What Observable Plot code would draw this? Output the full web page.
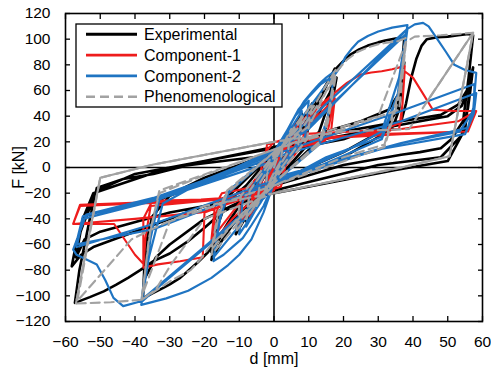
<!DOCTYPE html>
<html><head><meta charset="utf-8">
<script src="https://cdn.jsdelivr.net/npm/d3@7"></script>
<script src="https://cdn.jsdelivr.net/npm/@observablehq/plot@0.6"></script>
<style>body{margin:0;background:#fff;} #chart{width:491px;height:368px;}</style>
</head><body><div id="chart"></div>
<script>
const xTicks = [-60,-50,-40,-30,-20,-10,0,10,20,30,40,50,60];
const yTicks = [-120,-100,-80,-60,-40,-20,0,20,40,60,80,100,120];
const seriesNames = ["Experimental","Component-1","Component-2","Phenomenological"];

// d [mm], F [kN]
const experimental = [
[0,0],[1.5,12],[2.5,18],[2,6],[0,-4],[-1.5,-12],[-2.5,-18],[-2,-6],[0,4],
[2.5,16],[4.5,28],[3.8,12],[0,-6],[-2.5,-16],[-4.5,-28],[-3.8,-12],[0,6],
[3,18],[5.5,30],[8,42],[7,20],[0,-8],[-3,-18],[-5.5,-30],[-8,-42],[-7,-22],[0,8],
[4,20],[8,36],[11,50],[9.5,26],[0,-10],[-4,-22],[-8,-38],[-11,-52],[-9.5,-28],[0,10],
[5,22],[10,36],[12,46],[14,58],[16,69],[17.5,77],[15.5,48],[13,28],[0,-12],[-6,-26],[-9,-35],[-12,-45],[-15,-57],[-18,-72],[-16.5,-48],[-14,-28],[-8,-14],[0,12],
[6,22],[12,38],[16,58],[18,70],[16,40],[14,24],[0,-12],[-8,-30],[-14,-48],[-18,-66],[-16,-36],[-13,-22],[0,12],
[8,30],[11,45],[13,55],[15.5,67],[17.5,76],[20,83],[22,88],[24.5,92],[27,95],[30,97.5],[32,99],[35,100.5],[37.5,101],[36.5,70],[35.5,45],[32,30],[20,12],[0,-12],[-10,-30],[-13,-42],[-16,-55],[-19,-66],[-22,-74],[-24.5,-80],[-27,-86],[-30,-91],[-32,-94],[-35,-98],[-37.7,-102],[-37.2,-70],[-35.5,-44],[-32,-24],[-20,-8],[0,12],
[15,28],[25,36],[33,45],[36.5,60],[37.5,82],[36,45],[34,30],[20,8],[0,-14],[-20,-40],[-30,-60],[-34,-70],[-37.5,-88],[-36.5,-55],[-35,-38],[-30,-22],[0,12],
[20,22],[30,32],[36.6,36],[38,50],[39.5,70],[41,85],[42.5,95],[44,100],[47,101.5],[50,102],[53,103],[56,104],[57.3,103],[56,70],[54.4,36],[51,22],[48,15],[42,12],[36.6,10],[20,2],[0,-14],[-15,-35],[-20,-47],[-25,-58],[-30,-67],[-34.7,-73],[-38.5,-80],[-42,-86],[-45.5,-91.5],[-49,-96.5],[-53,-101],[-57.3,-105.5],[-56,-80],[-53,-40],[-51,-16],[-43.4,-9],[-34.7,-5],[-20,5],[0,16],
[20,28],[36.6,36],[48,41],[53,49],[55.5,60],[57.3,78],[56.5,60],[55.8,46],[54,25],[48,8],[30,2],[0,-18],[-20,-30],[-35,-45],[-45,-55],[-52,-62],[-55.5,-68],[-58.2,-77],[-57,-60],[-55,-45],[-51,-18],[-40,-5],[-20,5],[0,15],
[20,25],[40,35],[50,40],[54,48],[56.5,65],[55,30],[50,5],[35,-2],[0,-20],[-30,-35],[-50,-50],[-54.5,-56],[-57,-70],[-55,-40],[-52,-20],[-30,0],[0,10]
];
const component1 = [
[0,0],[1,10],[2,16],[1.5,4],[0,-3],[-1,-10],[-2,-16],[-1.5,-4],[0,3],
[1,12],[4,26],[3.5,10],[-0.5,-6],[-1,-12],[-4,-26],[-3.5,-10],[0.5,6],
[1,14],[4,26],[7,36],[6,16],[-0.5,-8],[-1.5,-15],[-5,-28],[-7,-38],[-6,-18],[0.5,8],
[2,16],[6,30],[10,42],[9,20],[0,-10],[-2,-18],[-7,-32],[-10,-44],[-9,-22],[0,10],
[3,18],[9,35],[13,48],[17.4,58],[16,35],[15,22],[2,14],[-1,-12],[-4,-20],[-12,-40],[-18,-60],[-17,-38],[-15,-24],[-2,-14],[1,12],
[5,20],[12,38],[17.5,54],[16.5,30],[14.5,20],[1,12],[-1,-12],[-10,-28],[-18,-56],[-17,-30],[-15,-20],[0,-12],[2,14],
[8,22],[10,32],[12,40],[14.5,50],[17.4,58],[21,66],[25,72.5],[28,74],[31,75],[34,76.5],[37.6,79],[37,50],[36,30],[20,24],[5,20],[2,-10],[-1,-20],[-10,-25],[-20,-35],[-20.5,-70],[-27,-73],[-33.4,-75.5],[-37.6,-78],[-37,-55],[-35.5,-30],[-20,-26],[-5,-22],[-3,10],[0,20],
[20,24],[30,28],[36.6,35],[37.6,75],[40,70],[43,57],[45.7,45],[52,44],[58.2,44],[55.8,28],[36.6,26],[10,22],[3,20],[0,-18],[-5,-22],[-21,-25],[-35,-26],[-37.6,-40],[-37.6,-75],[-40,-68],[-42,-60],[-46,-44],[-52,-44],[-57.8,-44],[-55.8,-29],[-35,-27],[-21,-25],[-4,-22],[-2,18],[7.8,26],[36.6,30],[53,36],[58.2,44],[55.8,28],[30,26],[5,22],[2,-15],[-21,-35],[-40,-40],[-57.8,-44],[-55.8,-30],[-30,-27],[-5,-22],[0,0]
];
const component2 = [
[0,0],[1,10],[2.5,20],[2,6],[0,-4],[-1,-10],[-2.5,-20],[-2,-6],[0,4],
[2.5,20],[5,32],[4,12],[0,-6],[-2.5,-20],[-5,-32],[-4,-12],[0,6],
[3,22],[8,44],[7,20],[0,-8],[-3,-22],[-8,-46],[-7,-22],[0,8],
[3,24],[6,40],[10,52],[9,24],[0,-10],[-4,-28],[-10,-52],[-9,-26],[0,10],
[4,30],[6.5,42],[8.7,51.7],[11,59],[13,65],[15,70],[17.4,75],[16,46],[14,22],[0,-12],[-3,-30],[-6.5,-45],[-9,-55],[-12,-62],[-14.5,-68],[-17.4,-73],[-16,-44],[-14,-22],[0,12],
[5,28],[17.4,73],[15.5,40],[13,18],[0,-12],[-17.4,-70],[-15.5,-40],[-13,-18],[0,12],
[4,30],[7,45],[10,55],[13.5,65],[17.4,72],[19,78],[20.5,86],[22.5,93],[24.2,98],[27,102.5],[30,106],[34,109],[38.4,111],[36,70],[31,28],[20,12],[0,-12],[-3,-35],[-6.5,-56],[-10,-68],[-13.2,-76],[-18,-86],[-24.7,-96],[-31,-102],[-38.2,-107],[-36,-70],[-32,-28],[-20,-10],[0,12],
[4,22],[38.4,108],[36,60],[31,24],[15,8],[0,-14],[-10,-38],[-38.2,-105],[-36,-60],[-33,-25],[-15,-5],[0,14],
[6,22],[38,104],[35.5,55],[31,22],[0,-14],[-12.3,-44],[-38,-103],[-35.5,-55],[-33,-24],[0,12],
[10,30],[38.4,108],[40.5,111.5],[42.9,112.7],[44.5,110],[47,100],[49.5,90],[51.9,80],[55,76],[58.2,73.7],[57.3,44],[53.4,28],[36.6,19],[0,-8],[-2.8,-23.7],[-38,-104],[-43.4,-108],[-46.2,-101.6],[-48.5,-88],[-51,-75.6],[-56.8,-68],[-57.8,-64],[-54,-36.6],[-34.7,-23.7],[-15,-5],[0,10],
[36.6,44],[57.7,65],[57.5,48],[55.8,31],[36.6,19],[0,-10],[-34.7,-44],[-56.8,-62],[-55,-40],[-34.7,-26],[0,8],
[36.6,36],[58.2,58],[57.5,42],[55,26],[30,14],[0,-12],[-34.7,-48],[-57,-60],[-55,-38],[-30,-22],[0,5]
];
const phenomenological = [
[0,0],[1.5,12],[2.5,18],[2,5],[0,-4],[-1.5,-12],[-2.5,-18],[-2,-5],[0,4],
[3,20],[5,30],[4,12],[0,-6],[-3,-20],[-5,-30],[-4,-12],[0,6],
[4,24],[8,40],[7,18],[0,-8],[-4,-24],[-8,-40],[-7,-18],[0,8],
[5,26],[11,50],[9.5,22],[0,-10],[-5,-28],[-11,-50],[-9.5,-22],[0,10],
[6,28],[9,38],[12,50],[15,64],[17.7,76],[15.5,40],[13,20],[0,-12],[-8,-35],[-13,-52],[-18,-68],[-16,-38],[-13.5,-20],[0,12],
[8,30],[17.7,70],[15.5,35],[13,18],[0,-12],[-10,-38],[-18,-64],[-16,-34],[-13.5,-18],[0,12],
[10,32],[13,48],[15.5,62],[17.7,74],[21,84],[24,90],[27,93.5],[30,96],[33,97.5],[35.7,98.4],[38,101],[36,60],[31.8,18],[20,8],[0,-14],[-18,-60],[-21,-71],[-24,-80],[-29.5,-88],[-34,-96],[-38,-103],[-36,-55],[-33,-20],[-20,-6],[0,14],
[15,28],[30,40],[38,98],[35.5,50],[31.8,16],[0,-14],[-30,-42],[-38,-100],[-35.5,-48],[-33,-18],[0,14],
[20,30],[36,45],[38,98],[40.5,102],[48,103],[57.3,105],[50.5,8.8],[36.6,0],[0,-20],[-20,-40],[-29.5,-75],[-34,-95],[-38,-103],[-47,-105],[-57,-106],[-50,-8],[-34.7,2.3],[0,20],
[20,28],[38.9,30],[43.8,50.4],[57.3,105],[50.5,8.8],[36.6,0],[0,-20],[-20,-30],[-32.4,-44.6],[-41,-56],[-56.6,-104],[-50,-8],[-34.7,2.3],[0,20]
];
// segments of the phenomenological path that are traced over and over (appear solid)
const phenomenologicalRetraced = [
[[-57,-106],[-50,-8],[-34.7,2.3],[0,20]],
[[57.3,105],[50.5,8.8],[36.6,0],[0,-20]],
[[43.8,50.4],[57.3,105]]
];

const colors = ["#000000","#ee1c1c","#1f74c2","#a2a2a2"];
const widths = [2.6,2.1,2.2,2.1];
const dashes = [null,null,null,"9,5"];

const toRows = pts => pts.map(([d,F]) => ({d, F}));
const retracedRows = phenomenologicalRetraced.flatMap((seg,i) => seg.map(([d,F]) => ({d, F, seg:i})));
const all = [experimental, component1, component2, phenomenological];

const lineMarks = all.map((pts,i) => Plot.line(toRows(pts), {
  x:"d", y:"F", stroke: colors[i], strokeWidth: widths[i], strokeDasharray: dashes[i],
  strokeLinejoin:"round", strokeLinecap:"round"
}));

const font = "'Liberation Sans', Arial, sans-serif";
const chart = Plot.plot({
  width: 491, height: 368,
  marginLeft: 65, marginRight: 9, marginTop: 13, marginBottom: 47,
  x: {domain:[-60,60], label: null},
  y: {domain:[-120,120], label: null},
  style: {fontFamily: font, fontSize: "15.5px", color:"#000", background:"#fff", overflow:"visible"},
  marks: [
    Plot.ruleX([0], {stroke:"#000", strokeWidth:1.6}),
    Plot.ruleY([0], {stroke:"#000", strokeWidth:1.6}),
    ...lineMarks,
    Plot.line(retracedRows, {x:"d", y:"F", z:"seg", stroke: colors[3], strokeWidth: 2.1, strokeLinejoin:"round"}),
    Plot.frame({stroke:"#000", strokeWidth:1.6}),
    Plot.axisX(xTicks, {anchor:"bottom", tickSize:-5, tickPadding:19, label:null, strokeWidth:1.3}),
    Plot.axisX(xTicks, {anchor:"top", tickSize:-5, tickFormat: () => "", label:null, strokeWidth:1.3}),
    Plot.axisY(yTicks, {anchor:"left", tickSize:-5, tickPadding:20, label:null, strokeWidth:1.3}),
    Plot.axisY(yTicks, {anchor:"right", tickSize:-5, tickFormat: () => "", label:null, strokeWidth:1.3}),
    Plot.text(["F [kN]"], {frameAnchor:"left", dx:-47, rotate:-90, fontSize:16, textAnchor:"middle", lineAnchor:"middle", fill:"#000"}),
    Plot.text(["d [mm]"], {frameAnchor:"bottom", dy:37, fontSize:16, textAnchor:"middle", lineAnchor:"middle", fill:"#000"})
  ]
});
document.getElementById("chart").appendChild(chart);

// legend inside the plot area
const svg = d3.select(chart);
const lg = svg.append("g").attr("font-family", font).attr("font-size", 16).attr("text-anchor","start");
lg.append("rect").attr("x",76).attr("y",24).attr("width",206).attr("height",83)
  .attr("fill","#ffffff").attr("stroke","#000000").attr("stroke-width",1.3);
seriesNames.forEach((name,i) => {
  const y = 34.3 + i*20.8;
  const l = lg.append("line").attr("x1",86).attr("x2",137).attr("y1",y).attr("y2",y)
    .attr("stroke",colors[i]).attr("stroke-width",widths[i]+0.5);
  if (dashes[i]) l.attr("stroke-dasharray",dashes[i]);
  lg.append("text").attr("x",144).attr("y",y).attr("dy","0.35em").attr("fill","#000").attr("text-anchor","start").text(name);
});
</script>
</body></html>
